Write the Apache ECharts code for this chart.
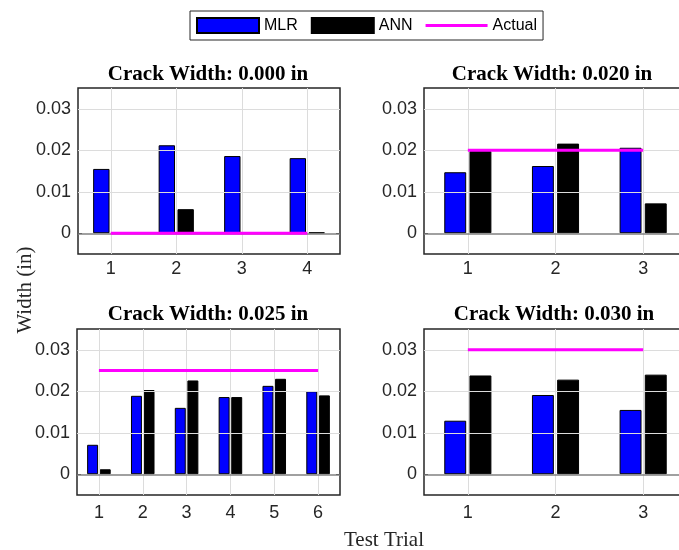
<!DOCTYPE html>
<html>
<head>
<meta charset="utf-8">
<script src="https://cdn.jsdelivr.net/npm/echarts@6/dist/echarts.min.js"></script>
<style>
  html, body { margin: 0; padding: 0; background: #fff; overflow: hidden; }
  /* canvas is wider than the window: the right-hand panels run past the edge */
  #chart { width: 700px; height: 550px; }
</style>
</head>
<body>
<div id="chart"></div>
<script>
// Predicted (MLR, ANN) vs. actual crack widths, one panel per nominal crack width
const panelTitles = ['Crack Width: 0.000 in', 'Crack Width: 0.020 in', 'Crack Width: 0.025 in', 'Crack Width: 0.030 in'];
const actualWidths = [0.000, 0.020, 0.025, 0.030];

const trials1 = ['1', '2', '3', '4'];
const trials2 = ['1', '2', '3'];
const trials3 = ['1', '2', '3', '4', '5', '6'];
const trials4 = ['1', '2', '3'];

const mlr1 = [0.0155, 0.0212, 0.0186, 0.0181];
const ann1 = [0, 0.0058, 0, 0.0002];
const mlr2 = [0.0147, 0.0162, 0.0206];
const ann2 = [0.0198, 0.0216, 0.0072];
const mlr3 = [0.0071, 0.0189, 0.0160, 0.0186, 0.0213, 0.0200];
const ann3 = [0.0012, 0.0203, 0.0226, 0.0186, 0.0230, 0.0190];
const mlr4 = [0.0129, 0.0191, 0.0155];
const ann4 = [0.0238, 0.0228, 0.0240];

const yTicks = [0, 0.01, 0.02, 0.03];
const yMin = -0.005;
const yMax = 0.035;

const trials = [trials1, trials2, trials3, trials4];
const mlr = [mlr1, mlr2, mlr3, mlr4];
const ann = [ann1, ann2, ann3, ann4];

const grids = [
  { left: 78, top: 88, width: 262, height: 166 },
  { left: 424, top: 88, width: 263, height: 166 },
  { left: 77, top: 329, width: 263, height: 166 },
  { left: 424, top: 329, width: 263, height: 166 }
];
const titlePos = [[208, 75], [552, 75], [208, 315], [554, 315]];
const labelMargin = [6, 6, 9, 9];

const SANS = 'Liberation Sans, Arial, sans-serif';
const SERIF = 'Liberation Serif, Times New Roman, serif';
const AXIS_TXT = '#262626';

const xAxes = [];
const yAxes = [];
const series = [];
const graphics = [];

trials.forEach((cats, i) => {
  // bottom axis with labels
  xAxes.push({
    type: 'category', gridIndex: i, data: cats, position: 'bottom',
    axisLine: { show: false },
    axisTick: { show: true, inside: true, alignWithLabel: true, length: 4, lineStyle: { color: AXIS_TXT, width: 1 } },
    axisLabel: { color: AXIS_TXT, fontFamily: SANS, fontSize: 18, margin: labelMargin[i] },
    splitLine: { show: false }
  });
  // top axis, ticks only
  xAxes.push({
    type: 'category', gridIndex: i, data: cats, position: 'top',
    axisLine: { show: false },
    axisTick: { show: true, inside: true, alignWithLabel: true, length: 4, lineStyle: { color: AXIS_TXT, width: 1 } },
    axisLabel: { show: false },
    splitLine: { show: false }
  });
  yAxes.push({
    type: 'value', gridIndex: i, min: yMin, max: yMax, position: 'left',
    axisLine: { show: false },
    axisTick: { show: true, inside: true, length: 4, customValues: yTicks, lineStyle: { color: AXIS_TXT, width: 1 } },
    axisLabel: {
      customValues: yTicks, color: AXIS_TXT, fontFamily: SANS, fontSize: 18, margin: 7,
      formatter: v => (Math.abs(v) < 1e-9 ? '0' : v.toFixed(2))
    },
    splitLine: { show: false }
  });
});
trials.forEach((cats, i) => {
  // right axis, ticks only
  yAxes.push({
    type: 'value', gridIndex: i, min: yMin, max: yMax, position: 'right',
    axisLine: { show: false },
    axisTick: { show: true, inside: true, length: 4, customValues: yTicks, lineStyle: { color: AXIS_TXT, width: 1 } },
    axisLabel: { show: false },
    splitLine: { show: false }
  });
});

trials.forEach((cats, i) => {
  const xi = 2 * i;
  // grid lines and zero baseline
  series.push({
    type: 'line', xAxisIndex: xi, yAxisIndex: i, data: [], silent: true, z: 1,
    markLine: {
      silent: true, symbol: ['none', 'none'], animation: false,
      label: { show: false },
      lineStyle: { color: '#dcdcdc', width: 1, type: 'solid' },
      data: yTicks.filter(v => v !== 0).map(v => ({ yAxis: v }))
        .concat(cats.map(c => ({ xAxis: c })))
        .concat([{ yAxis: 0, lineStyle: { color: '#808080', width: 1.5, type: 'solid' } }])
    }
  });
  series.push({
    name: 'MLR', type: 'bar', xAxisIndex: xi, yAxisIndex: i, data: mlr[i],
    barWidth: '25%', barGap: '15%', z: 3,
    itemStyle: { color: '#0000ff', borderColor: '#000000', borderWidth: 1 }
  });
  series.push({
    name: 'ANN', type: 'bar', xAxisIndex: xi, yAxisIndex: i, data: ann[i],
    barWidth: '25%', barGap: '15%', z: 3,
    itemStyle: { color: '#000000', borderColor: '#000000', borderWidth: 1 }
  });
  series.push({
    name: 'Actual', type: 'line', xAxisIndex: xi, yAxisIndex: i,
    data: cats.map(() => actualWidths[i]),
    symbol: 'none', z: 5,
    lineStyle: { color: '#ff00ff', width: 3 },
    itemStyle: { color: '#ff00ff' }
  });
  graphics.push({
    type: 'text', x: titlePos[i][0], y: titlePos[i][1],
    style: { text: panelTitles[i], fill: '#000', font: 'bold 21px ' + SERIF, textAlign: 'center', textVerticalAlign: 'middle' }
  });
});

graphics.push({
  type: 'text', x: 25, y: 290, rotation: Math.PI / 2,
  style: { text: 'Width (in)', fill: '#262626', font: '21px ' + SERIF, textAlign: 'center', textVerticalAlign: 'middle' }
});
graphics.push({
  type: 'text', x: 384, y: 540,
  style: { text: 'Test Trial', fill: '#262626', font: '21px ' + SERIF, textAlign: 'center', textVerticalAlign: 'middle' }
});

const chart = echarts.init(document.getElementById('chart'), null, { renderer: 'canvas' });
chart.setOption({
  animation: false,
  backgroundColor: '#ffffff',
  grid: grids.map(g => Object.assign({ show: true, borderColor: '#262626', borderWidth: 1.5, backgroundColor: 'transparent', containLabel: false }, g)),
  xAxis: xAxes,
  yAxis: yAxes,
  legend: {
    left: 190, top: 11,
    data: [
      { name: 'MLR', icon: 'rect' },
      { name: 'ANN', icon: 'rect' },
      { name: 'Actual', icon: 'path://M0,0L62,0L62,3L0,3Z', itemStyle: { color: '#ff00ff', borderWidth: 0 } }
    ],
    symbolKeepAspect: true,
    itemWidth: 62, itemHeight: 15, itemGap: 13,
    padding: [6, 6],
    borderColor: '#262626', borderWidth: 1,
    textStyle: { color: '#000', fontFamily: SANS, fontSize: 16 },
    selectedMode: false
  },
  series: series,
  graphic: graphics
});
</script>
</body>
</html>
